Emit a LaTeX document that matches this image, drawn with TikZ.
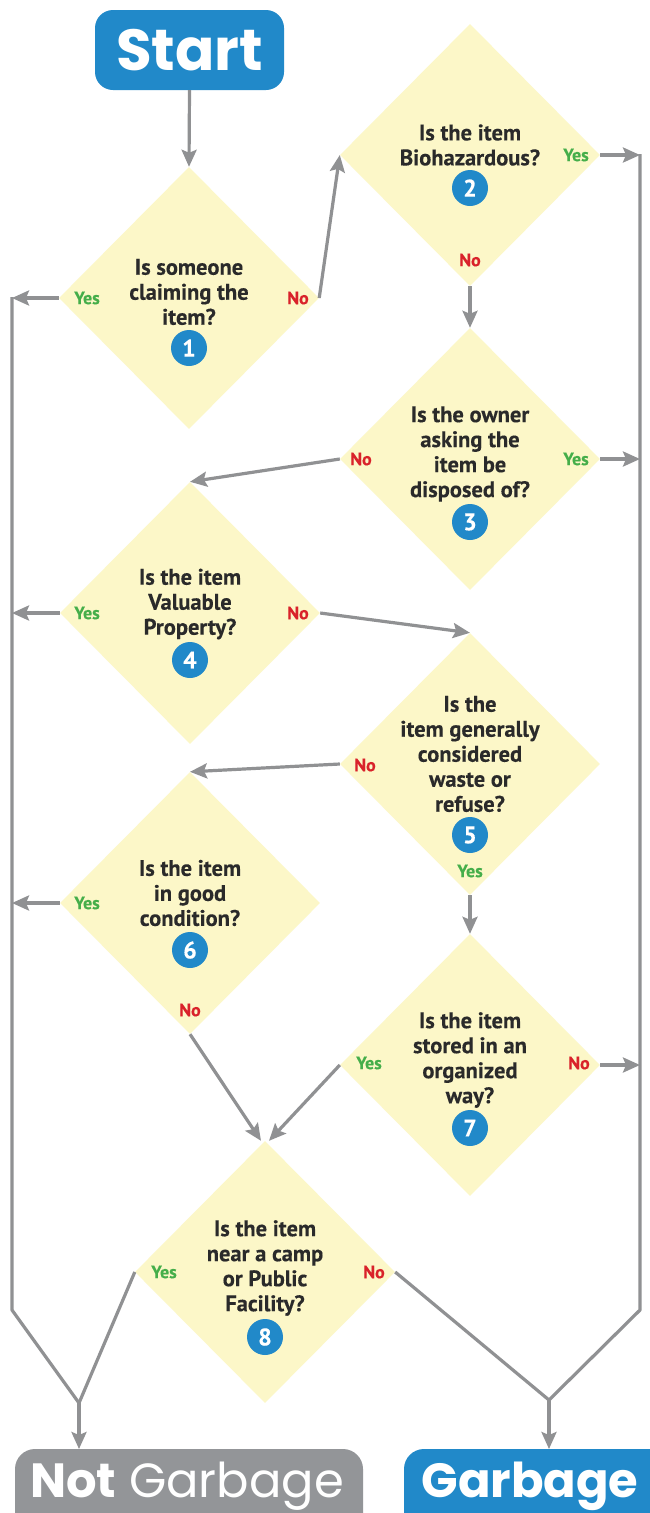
\documentclass[tikz,border=0pt]{standalone}
\usepackage{fontspec}
\usetikzlibrary{shapes.geometric,arrows.meta,calc}
\newfontfamily\popfont{Poppins}
\newfontfamily\qfont{PT Sans}[BoldFeatures={FakeBold=0.25}]
\definecolor{fbblue}{HTML}{2189C9}
\definecolor{boxgray}{HTML}{939598}
\definecolor{argray}{HTML}{909193}
\definecolor{dyellow}{HTML}{FCF7C8}
\definecolor{yesgreen}{HTML}{45AE4A}
\definecolor{nored}{HTML}{D9222A}
\definecolor{txtdark}{HTML}{2A2A2A}
\begin{document}
\begin{tikzpicture}[x=1pt,y=-1pt,
  dia/.style={diamond, fill=dyellow, minimum width=260pt, minimum height=262pt, inner sep=0pt, aspect=1},
  qtext/.style={align=center, text=txtdark, font=\qfont\bfseries\fontsize{22.5}{25}\selectfont, inner sep=0pt},
  numc/.style={circle, fill=fbblue, minimum size=36pt, inner sep=0pt, text=white, font=\qfont\bfseries\fontsize{24}{24}\selectfont},
  yeslab/.style={text=yesgreen, font=\qfont\bfseries\fontsize{18}{18}\selectfont, inner sep=0pt},
  nolab/.style={text=nored, font=\qfont\bfseries\fontsize{18}{18}\selectfont, inner sep=0pt},
  arr/.style={draw=argray, line width=3.2pt, -{Stealth[length=17pt,width=15pt,inset=3pt]}},
  rail/.style={draw=argray, line width=3.2pt, line join=round},
  termbox/.style={rectangle, rounded corners=18pt, text=white, inner sep=0pt},
  termtext/.style={text=white, inner sep=0pt}
]
\path[use as bounding box, clip] (0,0) rectangle (650,1513);
\fill[white] (0,0) rectangle (650,1513);

% terminals
\node[termbox, fill=fbblue, minimum width=189pt, minimum height=80pt, font=\popfont\bfseries\fontsize{58}{58}\selectfont] (start) at (189.5,50) {Start};
\fill[boxgray, rounded corners=20pt] (15,1449) rectangle (363,1545);
\fill[fbblue, rounded corners=20pt] (404,1449) rectangle (690,1545);
\node[termtext, anchor=base, font=\popfont\fontsize{48}{48}\selectfont] (notg) at (187,1497) {\bfseries Not\mdseries\ Garbage};
\node[termtext, anchor=base, font=\popfont\bfseries\fontsize{48}{48}\selectfont] (garb) at (530,1497) {Garbage};
\coordinate (notgtop) at (79,1449);
\coordinate (garbtop) at (549,1449);

% diamonds
\node[dia] (d1) at (189,298) {};
\node[dia] (d2) at (470,155) {};
\node[dia] (d3) at (470,459) {};
\node[dia] (d4) at (190,613) {};
\node[dia] (d5) at (470,764) {};
\node[dia] (d6) at (190,903) {};
\node[dia] (d7) at (470,1065) {};
\node[dia] (d8) at (265,1272) {};

% questions
\node[qtext] (t1) at (189,292) {Is someone\\claiming the\\item?};
\node[qtext] (t2) at (470,145) {Is the item\\Biohazardous?};
\node[qtext] (t3) at (470,454) {Is the owner\\asking the\\item be\\disposed of?};
\node[qtext] (t4) at (190,604) {Is the item\\Valuable\\Property?};
\node[qtext] (t5) at (470,754) {Is the\\item generally\\considered\\waste or\\refuse?};
\node[qtext] (t6) at (190,893) {Is the item\\in good\\condition?};
\node[qtext] (t7) at (470,1060) {Is the item\\stored in an\\organized\\way?};
\node[qtext] (t8) at (265,1268) {Is the item\\near a camp\\or Public\\Facility?};

% numbers
\node[numc] (c1) at (189,348) {1};
\node[numc] (c2) at (470,188) {2};
\node[numc] (c3) at (470,522) {3};
\node[numc] (c4) at (190,660) {4};
\node[numc] (c5) at (470,835) {5};
\node[numc] (c6) at (190,950) {6};
\node[numc] (c7) at (470,1128) {7};
\node[numc] (c8) at (265,1337) {8};

% yes / no labels
\node[yeslab] (y1) at (87,298) {Yes};
\node[nolab]  (x1) at (298,298) {No};
\node[yeslab] (y2) at (576,155) {Yes};
\node[nolab]  (x2) at (470,260) {No};
\node[nolab]  (x3) at (361,459) {No};
\node[yeslab] (y3) at (576,459) {Yes};
\node[yeslab] (y4) at (87,613) {Yes};
\node[nolab]  (x4) at (298,613) {No};
\node[nolab]  (x5) at (365,765) {No};
\node[yeslab] (y5) at (470,871) {Yes};
\node[yeslab] (y6) at (87,903) {Yes};
\node[nolab]  (x6) at (190,1010) {No};
\node[yeslab] (y7) at (369,1063) {Yes};
\node[nolab]  (x7) at (579,1063) {No};
\node[yeslab] (y8) at (164,1272) {Yes};
\node[nolab]  (x8) at (374,1272) {No};

% rails
\coordinate (lt) at (12,297);
\coordinate (lb) at (12,1310);
\coordinate (L) at (79,1403);
\coordinate (rt) at (640,154);
\coordinate (rb) at (640,1310);
\coordinate (R) at (549,1400);
\draw[rail] (lt) -- (lb) -- (L);
\draw[rail] (rt) -- (rb) -- (R);
\draw[rail] (d8.west) -- (L);
\draw[rail] (d8.east) -- (R);
\draw[arr] (L) -- (notgtop);
\draw[arr] (R) -- (garbtop);

% connectors
\draw[arr] (start.south) -- (d1.north);
\draw[arr] (d1.east) -- (d2.west);
\draw[arr] (d1.west) -- (d1.west -| lt);
\draw[arr] (d2.east) -- (d2.east -| rt);
\draw[arr] (d2.south) -- (d3.north);
\draw[arr] (d3.west) -- (d4.north);
\draw[arr] (d3.east) -- (d3.east -| rt);
\draw[arr] (d4.west) -- (d4.west -| lt);
\draw[arr] (d4.east) -- (d5.north);
\draw[arr] (d5.west) -- (d6.north);
\draw[arr] (d5.south) -- (d7.north);
\draw[arr] (d6.west) -- (d6.west -| lt);
\draw[arr] (d6.south) -- ($(d8.north)+(-4,0)$);
\draw[arr] (d7.west) -- ($(d8.north)+(4,0)$);
\draw[arr] (d7.east) -- (d7.east -| rt);
\end{tikzpicture}
\end{document}
